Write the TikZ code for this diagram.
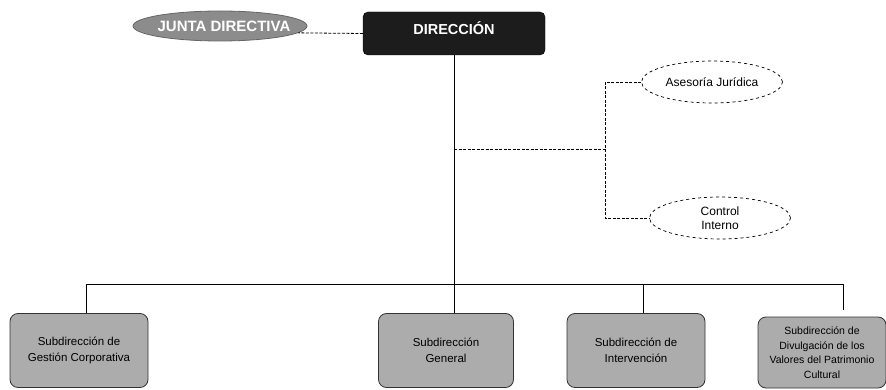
\documentclass[tikz,border=0pt]{standalone}
\usepackage{fontspec}
\setmainfont{Liberation Sans}
\usetikzlibrary{shapes.geometric}
\definecolor{boxgray}{RGB}{172,172,172}
\definecolor{jgray}{RGB}{140,140,140}
\definecolor{dirblack}{RGB}{28,28,28}
\begin{document}
\begin{tikzpicture}[x=1pt,y=-1pt,
  subbox/.style={draw=black!80, line width=0.8pt, fill=boxgray, rounded corners=8pt,
    minimum width=#1, minimum height=74pt, inner sep=0pt, align=center,
    font=\fontsize{11.5}{15.5}\selectfont},
  oval/.style={ellipse, draw=black, dashed, line width=0.7pt, fill=white,
    minimum width=141pt, minimum height=42pt, inner sep=0pt, align=center,
    font=\fontsize{12}{14}\selectfont},
  headtext/.style={text=white, inner sep=0pt},
  solidline/.style={draw=black, line width=1pt},
  dashline/.style={draw=black, line width=0.8pt, dash pattern=on 3pt off 1.5pt}]
\useasboundingbox (0,0) rectangle (886,390);
% top
\node[ellipse, draw=black!60, fill=jgray, line width=0.8pt, minimum width=174pt, minimum height=30pt,
  inner sep=0pt] (junta) at (220,26) {};
\node[headtext, font=\bfseries\fontsize{15}{17}\selectfont] (juntatext) at (224,26) {JUNTA DIRECTIVA};
\node[draw=black, fill=dirblack, rounded corners=5pt, minimum width=182pt, minimum height=43pt,
  inner sep=0pt] (dir) at (454,33.5) {};
\node[headtext, font=\bfseries\fontsize{14.5}{16}\selectfont] (dirtext) at (454,28) {DIRECCIÓN};
% staff
\node[oval] (ase) at (712,82) {Asesoría Jurídica};
\node[oval] (ctl) at (720,218) {Control\\Interno};
% bottom boxes
\node[subbox=138pt] (ges) at (79,350.5) {Subdirección de\\Gestión Corporativa};
\node[subbox=135pt] (gen) at (446,350.5) {Subdirección\\General};
\node[subbox=138pt] (int) at (636,350.5) {Subdirección de\\Intervención};
\node[subbox=128pt, minimum height=71pt, font=\fontsize{10.5}{14.5}\selectfont] (div) at (822,352.5) {Subdirección de\\Divulgación de los\\Valores del Patrimonio\\Cultural};
% coordinates
\coordinate (bl) at (86,284);
\coordinate (br) at (843,284);
\coordinate (brend) at (843,310);
\coordinate (b3) at (643,284);
\coordinate (dj) at (454,149);
\coordinate (dv) at (605,149);
% connectors
\draw[dashline] (dir.west) -- (junta.-5);
\draw[solidline] (dir.south) -- (dir.south |- gen.north);
\draw[solidline] (bl |- ges.north) -- (bl) -- (br) -- (brend);
\draw[solidline] (b3) -- (b3 |- int.north);
\draw[dashline] (dj) -- (dv);
\draw[dashline] (ase.west) -| (dv) |- (ctl.west);
\end{tikzpicture}
\end{document}
